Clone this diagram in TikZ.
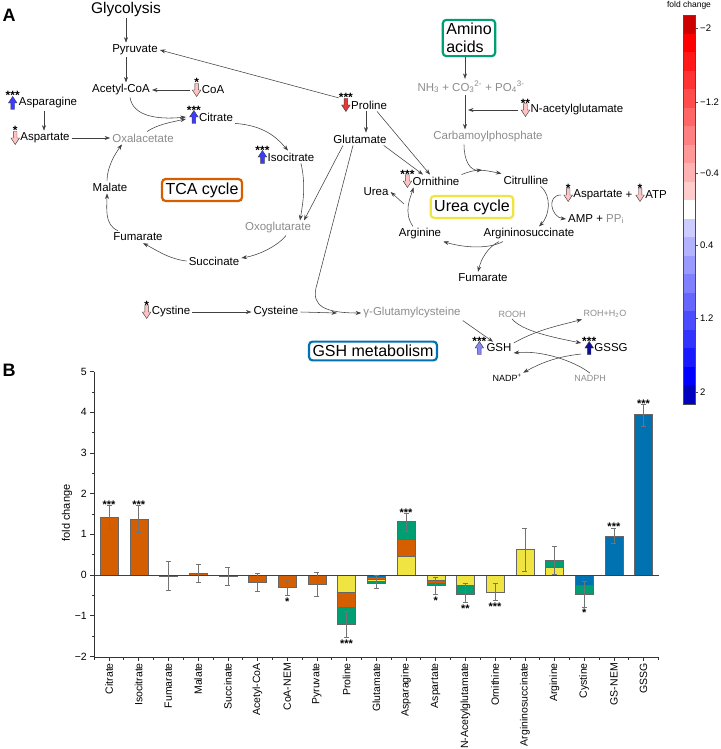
\documentclass[tikz,border=0pt]{standalone}
\usepackage{fontspec}
\setmainfont{Liberation Sans}
\usetikzlibrary{arrows.meta}

\definecolor{corange}{RGB}{213,94,0}
\definecolor{cgreen}{RGB}{0,158,115}
\definecolor{cyellow}{RGB}{240,228,66}
\definecolor{cblue}{RGB}{0,114,178}
\definecolor{fcblue}{RGB}{60,60,255}
\definecolor{fclight}{RGB}{135,135,245}
\definecolor{fcnavy}{RGB}{15,15,150}
\definecolor{fcred}{RGB}{235,55,55}
\definecolor{fcpink}{RGB}{255,195,195}

\begin{document}
\begin{tikzpicture}[x=1pt,y=-1pt]

\tikzset{mymet/.style={inner sep=2pt, font=\fontsize{11.5}{13}\selectfont}}
\tikzset{mygray/.style={mymet, text=black!45}}
\tikzset{mysmall/.style={inner sep=1.5pt, font=\fontsize{9}{10}\selectfont, text=black!45}}
\tikzset{mybox/.style={draw=#1, line width=2.2pt, rounded corners=3.5pt, inner xsep=3.5pt, inner ysep=3.5pt, font=\fontsize{16}{17.5}\selectfont}}
\tikzset{myarrow/.style={draw=black!75, line width=0.55pt, -{Stealth[length=5.5pt,width=4pt]}}}
\tikzset{mystars/.style={anchor=base, inner sep=0pt, font=\fontsize{12}{12}\selectfont\bfseries}}
\tikzset{mypanel/.style={font=\fontsize{18}{18}\selectfont\bfseries}}
\tikzset{mytick/.style={inner sep=1pt, font=\fontsize{10.5}{12}\selectfont}}
\tikzset{myaxis/.style={draw=black!80, line width=0.6pt}}
\tikzset{myerr/.style={draw=black!55, line width=0.5pt}}
\tikzset{mycb/.style={inner sep=1pt, font=\fontsize{9.5}{10}\selectfont}}
\tikzset{pics/myup/.style 2 args={code={
  \filldraw[fill=#1, draw=black!75, line width=0.45pt] (-1.8,6.5) -- (-1.8,0) -- (-4.3,0) -- (0,-6.5) -- (4.3,0) -- (1.8,0) -- (1.8,6.5) -- cycle;
  \node[mystars] (-s) at (0,-3) {#2};
}}}
\tikzset{pics/mydown/.style 2 args={code={
  \filldraw[fill=#1, draw=black!75, line width=0.45pt] (-1.8,-6.5) -- (-1.8,0) -- (-4.3,0) -- (0,6.5) -- (4.3,0) -- (1.8,0) -- (1.8,-6.5) -- cycle;
  \node[mystars] (-s) at (0,-3) {#2};
}}}

\useasboundingbox (0,0) rectangle (720,749);

% panel A
\node[mypanel] (pa) at (9,15) {A};
\node[mymet, font=\fontsize{15.5}{17}\selectfont] (glyc) at (126,9) {Glycolysis};
\node[mymet] (pyr) at (135,50) {Pyruvate};
\node[mymet] (acoa) at (121,90) {Acetyl-CoA};
\node[mymet] (coa) at (213,90) {CoA};
\node[mymet] (asn) at (48,103) {Asparagine};
\node[mymet] (asp) at (45,138) {Aspartate};
\node[mygray] (oaa) at (143,138) {Oxalacetate};
\node[mymet] (cit) at (216,117) {Citrate};
\node[mymet] (icit) at (291,157) {Isocitrate};
\node[mymet] (mal) at (110,187) {Malate};
\node[mymet] (fumt) at (138,237) {Fumarate};
\node[mymet] (suc) at (214,261) {Succinate};
\node[mygray] (oxo) at (278,228) {Oxoglutarate};
\node[mybox=corange] (tca) at (202,190) {TCA cycle};

\node[mymet] (pro) at (369,105) {Proline};
\node[mymet] (glu) at (360,139) {Glutamate};
\node[mybox=cgreen, align=left] (amino) at (469,38) {Amino\\acids};
\node[mygray] (nh3) at (471,87) {NH\textsubscript{3} + CO\textsubscript{3}\textsuperscript{2-} + PO\textsubscript{4}\textsuperscript{3-}};
\node[mygray] (carb) at (488,137) {Carbamoylphosphate};
\node[mymet] (nag) at (577,110) {N-acetylglutamate};
\node[mymet] (orn) at (436,181) {Ornithine};
\node[mymet] (citr) at (526,180) {Citrulline};
\node[mymet] (urea) at (376,192) {Urea};
\node[mybox=cyellow] (urbox) at (472,207) {Urea cycle};
\node[mymet] (arg) at (420,234) {Arginine};
\node[mymet] (asuc) at (529,234) {Argininosuccinate};
\node[mymet] (fumu) at (483,278) {Fumarate};
\node[mymet] (aspu) at (598,195) {Aspartate};
\node[mymet] (plus) at (629,195) {+};
\node[mymet] (atp) at (656,195) {ATP};
\node[mymet, anchor=west] (amp) at (566,219) {AMP + \textcolor{black!45}{PP\textsubscript{i}}};

\node[mymet] (cyss) at (171,312) {Cystine};
\node[mymet] (cys) at (276,312) {Cysteine};
\node[mygray] (ggc) at (412,313) {γ-Glutamylcysteine};
\node[mybox=cblue] (gshbox) at (373,351) {GSH metabolism};
\node[mymet] (gsh) at (499,348) {GSH};
\node[mymet] (gssg) at (611,348) {GSSG};
\node[mysmall] (rooh) at (512,314) {ROOH};
\node[mysmall] (roh) at (605,314) {ROH+H\textsubscript{2}O};
\node[mysmall, text=black] (nadp) at (507,378) {NADP\textsuperscript{+}};
\node[mysmall] (nadph) at (590,378) {NADPH};

% fold change arrows
\pic (coaa) at ([xshift=-3]coa.west) {mydown={fcpink}{*}};
\pic (asna) at ([xshift=-4]asn.west) {myup={fcblue}{***}};
\pic (aspa) at ([xshift=-3]asp.west) {mydown={fcpink}{*}};
\pic (cita) at ([xshift=-3]cit.west) {myup={fcblue}{***}};
\pic (icita) at ([xshift=-3]icit.west) {myup={fcblue}{***}};
\pic (proa) at ([xshift=-3]pro.west) {mydown={fcred}{***}};
\pic (naga) at ([xshift=-3]nag.west) {mydown={fcpink}{**}};
\pic (orna) at ([xshift=-3]orn.west) {mydown={fcpink}{***}};
\pic (aspua) at ([xshift=-3]aspu.west) {mydown={fcpink}{*}};
\pic (atpa) at ([xshift=-3]atp.west) {mydown={fcpink}{*}};
\pic (cyssa) at ([xshift=-3]cyss.west) {mydown={fcpink}{*}};
\pic (gsha) at ([xshift=-5]gsh.west) {myup={fclight}{***}};
\pic (gssga) at ([xshift=-3]gssg.west) {myup={fcnavy}{***}};

% TCA cycle
\draw[myarrow] (glyc.south) -- (glyc.south |- pyr.north);
\draw[myarrow] (pyr.south -| glyc.south) -- (acoa.north -| glyc.south);
\draw[myarrow] ([xshift=-10]coa.west) -- (acoa.east);
\draw[myarrow] (proa-s.west) -- (pyr.east);
\draw[myarrow] ([xshift=-4]asn.south) -- ([xshift=-4]asn.south |- asp.north);
\draw[myarrow] (asp.east) -- (oaa.west);
\draw[myarrow] ([xshift=9]acoa.south) .. controls +(3,18) and +(-30,3) .. ([xshift=-11]cit.west);
\draw[myarrow] ([xshift=4]oaa.north) .. controls +(10,-7) and +(-14,3) .. ([xshift=-11,yshift=-2]cit.west);
\draw[myarrow] (cit.south east) .. controls +(28,2) and +(-12,-14) .. ([xshift=-3]icit.north);
\draw[myarrow] ([xshift=10]icit.south) .. controls +(5,22) and +(3,-18) .. ([xshift=22]oxo.north);
\draw[myarrow] ([xshift=-17]glu.south) -- ([xshift=26]oxo.north);
\draw[myarrow] ([xshift=8]oxo.south) .. controls +(-8,10) and +(18,-3) .. ([yshift=3]suc.east);
\draw[myarrow] (suc.west) .. controls +(-18,-2) and +(12,6) .. ([xshift=5]fumt.south);
\draw[myarrow] ([xshift=-20]fumt.north) .. controls +(-14,-6) and +(0,14) .. ([xshift=-3]mal.south);
\draw[myarrow] ([xshift=-3]mal.north) .. controls +(0,-14) and +(-6,8) .. ([xshift=-21]oaa.south);

% urea cycle
\draw[myarrow] ([xshift=-3]pro.south) -- ([xshift=-3]pro.south |- glu.north);
\draw[myarrow] ([xshift=8]pro.south) -- ([xshift=-6]orn.north);
\draw[myarrow] ([xshift=-5]glu.south east) -- ([xshift=-13]orn.north);
\draw[myarrow] ([xshift=-4]amino.south) -- ([xshift=-4]amino.south |- nh3.north);
\draw[myarrow] ([xshift=-4]amino.south |- nh3.south) -- ([xshift=-4]amino.south |- carb.north);
\coordinate (nagend) at (468,110);
\draw[myarrow] ([xshift=-10]nag.west) -- (nagend);
\coordinate (carbend) at (482,170);
\draw[myarrow] ([xshift=-24]carb.south) .. controls +(0,16) and +(-12,1) .. (carbend);
\draw[myarrow] (orn.north east) .. controls +(15,-6) and +(-20,-4) .. (citr.north west);
\draw[myarrow] ([xshift=-10]citr.south east) .. controls +(12,10) and +(10,-10) .. ([xshift=10]asuc.north);
\draw[myarrow] ([xshift=-10]aspu.west) .. controls +(-15,0) and +(-15,-2) .. (amp.west);
\draw[myarrow] ([xshift=-26]asuc.south) .. controls +(-15,8) and +(20,6) .. (arg.south east);
\draw[myarrow] ([xshift=-30]asuc.south) .. controls +(-12,6) and +(3,-12) .. ([xshift=-5]fumu.north);
\draw[myarrow] ([xshift=-7]arg.north) .. controls +(-10,-14) and +(-3,10) .. ([xshift=3]orn.south west);
\coordinate (ureastart) at (404,204);
\draw[myarrow] (ureastart) -- (urea.east);

% GSH metabolism
\draw[myarrow] ([xshift=-7]glu.south) -- (316,288) .. controls (312,306) and (325,313) .. (ggc.west);
\draw[myarrow] (cyss.east) -- (cys.west);
\coordinate (cysend) at (337,313);
\draw[myarrow] (cys.east) -- (cysend);
\draw[myarrow] (ggc.south east) -- ([xshift=-6]gsh.north);
\draw[myarrow] (rooh.south) .. controls +(10,12) and +(-30,-6) .. ([xshift=-11,yshift=5]gssg.west);
\draw[myarrow] ([yshift=5]gsh.east) .. controls +(25,-14) and +(-22,6) .. (roh.south west);
\draw[myarrow] (nadph.north) .. controls +(-15,-12) and +(28,-3) .. ([yshift=-5]gsh.east);
\draw[myarrow] ([xshift=-11,yshift=-6]gssg.west) .. controls +(-28,3) and +(15,-8) .. (nadp.north east);

% colour bar
\node[mycb, font=\fontsize{8.5}{9}\selectfont] (cbtitle) at (689,5) {fold change};
\fill[red!80!black] (683,15) rectangle (695,33.52);
\foreach \i in {1,...,9} {
  \pgfmathtruncatemacro{\p}{100-(\i-1)*10}
  \fill[red!\p!white] (683,{15+18.52*\i}) rectangle (695,{15+18.52*(\i+1)});
}
\foreach \i in {11,...,19} {
  \pgfmathtruncatemacro{\p}{(\i-10)*10+10}
  \fill[blue!\p!white] (683,{15+18.52*\i}) rectangle (695,{15+18.52*(\i+1)});
}
\fill[blue!75!black] (683,{15+18.52*20}) rectangle (695,404);
\draw[black!70, line width=0.4pt] (683,15) rectangle (695,404);
\foreach \y/\t [count=\k] in {28/−2, 102/−1.2, 173/−0.4, 245/0.4, 318/1.2, 392/2} {
  \draw[black!70, line width=0.4pt] (695,\y) -- (698,\y);
  \node[mycb, anchor=west] (cbl\k) at (699,\y) {\t};
}

% panel B
\node[mypanel] (pb) at (9,370) {B};
\node[mytick, rotate=90, font=\fontsize{11}{12}\selectfont] (ylab) at (67,513) {fold change};

\foreach \i/\a/\b/\c in {0/0/1.43/corange, 1/0/1.38/corange, 2/0/-0.02/corange, 3/0/0.05/corange,
  4/0/-0.02/corange, 5/0/-0.18/corange, 6/0/-0.31/corange, 7/0/-0.22/corange,
  8/0/-0.42/cyellow, 8/-0.42/-0.79/corange, 8/-0.79/-1.21/cgreen,
  9/0/-0.06/cblue, 9/-0.06/-0.10/corange, 9/-0.10/-0.14/cyellow, 9/-0.14/-0.19/cgreen,
  10/0/0.45/cyellow, 10/0.45/0.88/corange, 10/0.88/1.32/cgreen,
  11/0/-0.12/cyellow, 11/-0.12/-0.19/corange, 11/-0.19/-0.25/cgreen,
  12/0/-0.26/cyellow, 12/-0.26/-0.47/cgreen, 13/0/-0.42/cyellow, 14/0/0.64/cyellow,
  15/0/0.18/cyellow, 15/0.18/0.37/cgreen, 16/0/-0.25/cblue, 16/-0.25/-0.47/cgreen,
  17/0/0.96/cblue, 18/0/3.95/cblue} {
  \filldraw[fill=\c, draw=black!60, line width=0.4pt] ({100+29.7*\i},{575-40.7*\a}) rectangle ({118+29.7*\i},{575-40.7*\b});
}

\draw[black!75, line width=0.6pt] (94,575) -- (659,575);

\foreach \i/\lo/\hi in {0/1.13/1.72, 1/1.05/1.72, 2/-0.38/0.35, 3/-0.17/0.27, 4/-0.25/0.20,
  5/-0.41/0.05, 6/-0.50/-0.12, 7/-0.52/0.07, 8/-1.54/-0.88, 9/-0.32/0.0, 10/1.08/1.52,
  11/-0.47/-0.06, 12/-0.68/-0.20, 13/-0.62/-0.20, 14/0.10/1.16, 15/0.02/0.71,
  16/-0.78/-0.15, 17/0.79/1.16, 18/3.66/4.20} {
  \draw[myerr] ({109+29.7*\i},{575-40.7*\lo}) -- ({109+29.7*\i},{575-40.7*\hi});
  \draw[myerr] ({106.5+29.7*\i},{575-40.7*\lo}) -- ({111.5+29.7*\i},{575-40.7*\lo});
  \draw[myerr] ({106.5+29.7*\i},{575-40.7*\hi}) -- ({111.5+29.7*\i},{575-40.7*\hi});
}

\foreach \i/\hi/\s in {0/1.72/***, 1/1.72/***, 10/1.52/***, 17/1.16/***, 18/4.20/***}
  \node[mystars, font=\fontsize{11}{11}\selectfont\bfseries] (sa\i) at ({109+29.7*\i},{578-40.7*\hi}) {\s};
\foreach \i/\lo/\s in {6/-0.50/*, 8/-1.54/***, 11/-0.47/*, 12/-0.68/**, 13/-0.62/***, 16/-0.78/*}
  \node[mystars, font=\fontsize{11}{11}\selectfont\bfseries] (sb\i) at ({109+29.7*\i},{585-40.7*\lo}) {\s};

% axes
\draw[myaxis] (94,371.5) -- (94,657) -- (659,657);
\foreach \v/\t in {-2/−2, -1/−1, 0/0, 1/1, 2/2, 3/3, 4/4, 5/5} {
  \draw[myaxis] (94,{575-40.7*\v}) -- (90,{575-40.7*\v});
  \node[mytick, anchor=east] (yt\v) at (88,{575-40.7*\v}) {\t};
}
\foreach \v in {-1.5,-0.5,...,4.5}
  \draw[myaxis] (94,{575-40.7*\v}) -- (91.5,{575-40.7*\v});
\foreach \i in {0,...,19}
  \draw[myaxis] ({94+29.7*\i},657) -- ({94+29.7*\i},659.5);
\foreach \i/\t in {0/Citrate, 1/Isocitrate, 2/Fumarate, 3/Malate, 4/Succinate, 5/Acetyl-CoA,
  6/CoA-NEM, 7/Pyruvate, 8/Proline, 9/Glutamate, 10/Asparagine, 11/Aspartate,
  12/N-Acetylglutamate, 13/Ornithine, 14/Argininosuccinate, 15/Arginine, 16/Cystine,
  17/GS-NEM, 18/GSSG} {
  \draw[myaxis] ({109+29.7*\i},657) -- ({109+29.7*\i},661);
  \node[mytick, rotate=90, anchor=east] (xl\i) at ({109+29.7*\i},662) {\t};
}

\end{tikzpicture}
\end{document}
